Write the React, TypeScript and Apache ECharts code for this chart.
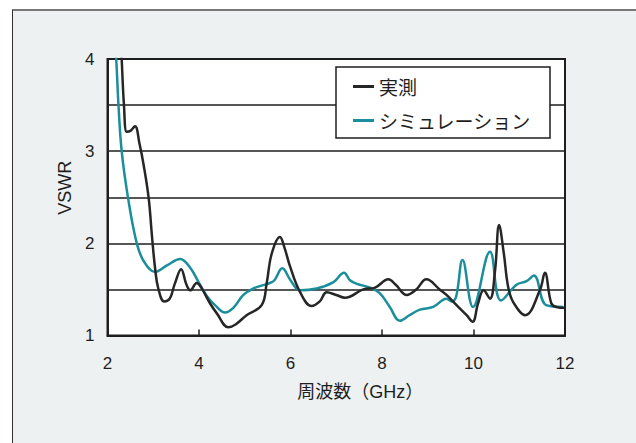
import React, { useEffect, useRef } from "react";
import * as echarts from "echarts";

// Measured VSWR (実測): [frequency GHz, VSWR]
const measured: [number, number][] = [
  [2.25, 4.6], [2.31, 4.0], [2.36, 3.5], [2.42, 3.21], [2.5, 3.22], [2.6, 3.27],
  [2.7, 3.08], [2.79, 2.85], [2.9, 2.49], [2.97, 2.09], [3.04, 1.73], [3.11, 1.51],
  [3.24, 1.37], [3.36, 1.4], [3.47, 1.56], [3.61, 1.72], [3.72, 1.56], [3.81, 1.49],
  [3.95, 1.57], [4.05, 1.52], [4.24, 1.35], [4.39, 1.24], [4.64, 1.09], [4.8, 1.12],
  [5.04, 1.22], [5.37, 1.33], [5.48, 1.57], [5.59, 1.89], [5.77, 2.07], [5.87, 1.95],
  [5.99, 1.75], [6.21, 1.47], [6.46, 1.32], [6.64, 1.37], [6.79, 1.47], [7.0, 1.44],
  [7.19, 1.41], [7.59, 1.5], [7.85, 1.52], [8.14, 1.61], [8.3, 1.55], [8.54, 1.44],
  [8.75, 1.5], [8.97, 1.61], [9.26, 1.5], [9.41, 1.44], [9.63, 1.33], [9.85, 1.22],
  [9.98, 1.15], [10.1, 1.35], [10.22, 1.49], [10.36, 1.4], [10.47, 1.7], [10.56, 2.2],
  [10.66, 1.9], [10.76, 1.52], [10.87, 1.36], [11.13, 1.22], [11.45, 1.49], [11.56, 1.68],
  [11.7, 1.35], [11.81, 1.31], [12.0, 1.3],
];

// Simulated VSWR (シミュレーション): [frequency GHz, VSWR]
const simulated: [number, number][] = [
  [2.1, 4.6], [2.19, 4.0], [2.24, 3.5], [2.31, 3.0], [2.45, 2.49], [2.64, 2.0],
  [2.8, 1.8], [3.04, 1.69], [3.3, 1.76], [3.59, 1.83], [3.8, 1.74], [3.99, 1.58],
  [4.17, 1.43], [4.35, 1.33], [4.57, 1.25], [4.75, 1.3], [4.97, 1.44], [5.19, 1.51],
  [5.55, 1.57], [5.65, 1.6], [5.82, 1.73], [6.0, 1.6], [6.21, 1.49], [6.57, 1.51],
  [6.94, 1.58], [7.17, 1.68], [7.3, 1.6], [7.45, 1.56], [7.74, 1.52], [7.95, 1.46],
  [8.17, 1.31], [8.39, 1.16], [8.6, 1.22], [8.83, 1.28], [9.12, 1.31], [9.41, 1.4],
  [9.52, 1.37], [9.62, 1.42], [9.76, 1.82], [9.99, 1.31], [10.36, 1.91], [10.6, 1.38],
  [10.94, 1.55], [11.16, 1.59], [11.32, 1.65], [11.59, 1.33], [11.96, 1.31],
];

const seriesNames = ["実測", "シミュレーション"];
const seriesColors = ["#262626", "#1b8e9c"];
const xTicks = [2, 4, 6, 8, 10, 12];
const yLabelValues = [1, 2, 3, 4];

export default function App() {
  const ref = useRef<HTMLDivElement>(null);

  useEffect(() => {
    if (!ref.current) return;
    const chart = echarts.init(ref.current, null, { renderer: "svg" });
    const latin = "'Liberation Sans', Arial, sans-serif";
    const cjk = "'Liberation Sans', 'Noto Sans CJK JP', sans-serif";
    chart.setOption({
      animation: false,
      backgroundColor: "transparent",
      grid: {
        left: 107.5,
        top: 59,
        right: 636 - 565,
        bottom: 443 - 335.5,
        show: true,
        backgroundColor: "#ffffff",
        borderColor: "#1e1e1e",
        borderWidth: 2,
      },
      legend: {
        orient: "vertical",
        left: 336,
        top: 67,
        padding: [10, 19, 8, 17],
        itemGap: 15,
        itemWidth: 21,
        itemHeight: 3,
        icon: "rect",
        backgroundColor: "#ffffff",
        borderColor: "#1e1e1e",
        borderWidth: 1.5,
        textStyle: {
          fontFamily: "'Noto Sans CJK JP', sans-serif",
          fontSize: 19,
          color: "#1e1e1e",
        },
        data: seriesNames,
      },
      xAxis: {
        type: "value",
        min: xTicks[0],
        max: xTicks[xTicks.length - 1],
        interval: 2,
        name: "周波数（GHz）",
        nameLocation: "middle",
        nameGap: 47,
        nameTextStyle: {
          fontFamily: cjk,
          fontSize: 18,
          color: "#1e1e1e",
          padding: [0, 0, 0, 48],
        },
        axisLine: { show: true, lineStyle: { color: "#1e1e1e", width: 2 } },
        axisTick: { show: true, inside: true, length: 6, lineStyle: { color: "#1e1e1e", width: 1.5 } },
        axisLabel: {
          fontFamily: latin,
          fontSize: 17,
          color: "#1e1e1e",
          margin: 19,
        },
        splitLine: { show: false },
      },
      yAxis: {
        type: "value",
        min: 1,
        max: 4,
        interval: 0.5,
        name: "VSWR",
        nameLocation: "middle",
        nameGap: 33,
        nameTextStyle: {
          fontFamily: latin,
          fontSize: 18,
          color: "#1e1e1e",
          padding: [0, 0, 0, 19],
        },
        axisLine: { show: true, lineStyle: { color: "#1e1e1e", width: 2 } },
        axisTick: { show: false },
        axisLabel: {
          fontFamily: latin,
          fontSize: 17,
          color: "#1e1e1e",
          margin: 13,
          formatter: (v: number) => (yLabelValues.includes(v) ? String(v) : ""),
        },
        splitLine: { show: true, lineStyle: { color: "#1e1e1e", width: 1.5 } },
      },
      series: [
        {
          name: seriesNames[0],
          type: "line",
          data: measured,
          smooth: 0.4,
          showSymbol: false,
          clip: true,
          color: seriesColors[0],
          lineStyle: { color: seriesColors[0], width: 2.5 },
          z: 3,
        },
        {
          name: seriesNames[1],
          type: "line",
          data: simulated,
          smooth: 0.4,
          showSymbol: false,
          clip: true,
          color: seriesColors[1],
          lineStyle: { color: seriesColors[1], width: 2.5 },
          z: 2,
        },
      ],
    });
    return () => chart.dispose();
  }, []);

  return (
    <div
      style={{
        position: "fixed",
        left: 0,
        top: 0,
        width: 636,
        height: 443,
        background: "#ffffff",
        overflow: "hidden",
      }}
    >
      <div
        style={{
          position: "absolute",
          left: 12,
          top: 9,
          width: 640,
          height: 460,
          background: "#edf1f2",
          borderLeft: "1.5px solid #333",
          borderTop: "2px solid #777",
        }}
      />
      <div ref={ref} style={{ position: "absolute", left: 0, top: 0, width: 636, height: 443 }} />
    </div>
  );
}
